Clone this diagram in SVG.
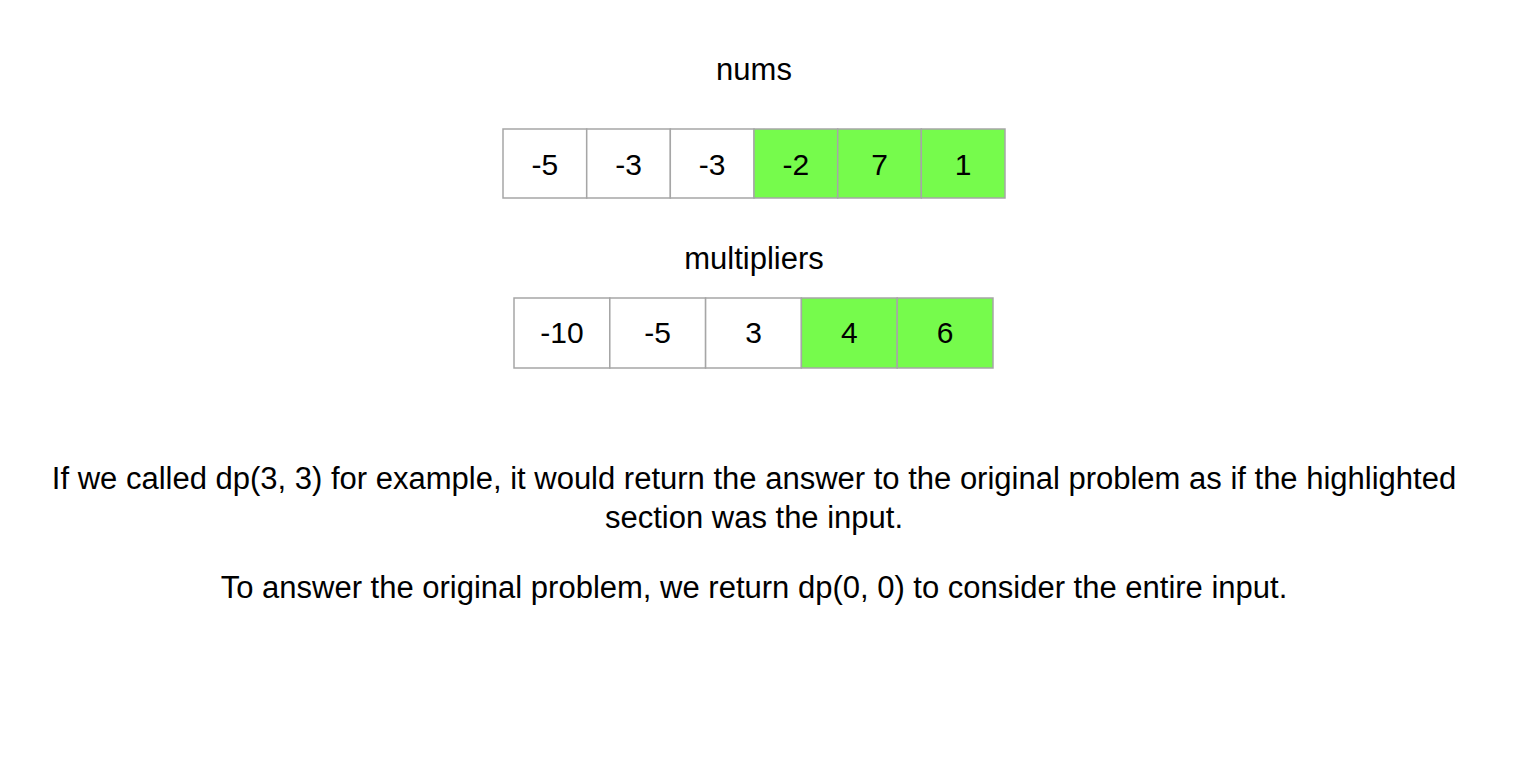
<svg xmlns="http://www.w3.org/2000/svg" width="1530" height="770" viewBox="0 0 1530 770">
<style>
text{font-family:"Liberation Sans",Arial,sans-serif;fill:#000;font-size:31px}
.c{text-anchor:middle}
.n{font-size:30px}
.w{fill:#fff;stroke:#a6a6a6;stroke-width:1.5}
.g{fill:#76fb4c;stroke:#a6a6a6;stroke-width:1.5}
</style>
<rect width="1530" height="770" fill="#fff"/>
<text class="c" x="754" y="80">nums</text>
<g id="nums">
<g id="n0"><rect class="w" x="503" y="129" width="83.7" height="69"/><text class="c n" x="544.8" y="175">-5</text></g>
<g id="n1"><rect class="w" x="586.7" y="129" width="83.7" height="69"/><text class="c n" x="628.5" y="175">-3</text></g>
<g id="n2"><rect class="w" x="670.3" y="129" width="83.7" height="69"/><text class="c n" x="712.2" y="175">-3</text></g>
<g id="n3"><rect class="g" x="754" y="129" width="83.7" height="69"/><text class="c n" x="795.8" y="175">-2</text></g>
<g id="n4"><rect class="g" x="837.7" y="129" width="83.7" height="69"/><text class="c n" x="879.5" y="175">7</text></g>
<g id="n5"><rect class="g" x="921.3" y="129" width="83.7" height="69"/><text class="c n" x="963.2" y="175">1</text></g>
</g>
<text class="c" x="754" y="269">multipliers</text>
<g id="multipliers">
<g id="m0"><rect class="w" x="514" y="298" width="95.8" height="70"/><text class="c n" x="561.9" y="343">-10</text></g>
<g id="m1"><rect class="w" x="609.8" y="298" width="95.8" height="70"/><text class="c n" x="657.7" y="343">-5</text></g>
<g id="m2"><rect class="w" x="705.6" y="298" width="95.8" height="70"/><text class="c n" x="753.5" y="343">3</text></g>
<g id="m3"><rect class="g" x="801.4" y="298" width="95.8" height="70"/><text class="c n" x="849.3" y="343">4</text></g>
<g id="m4"><rect class="g" x="897.2" y="298" width="95.8" height="70"/><text class="c n" x="945.1" y="343">6</text></g>
</g>
<text class="c" x="754" y="489">If we called dp(3, 3) for example, it would return the answer to the original problem as if the highlighted</text>
<text class="c" x="754" y="528">section was the input.</text>
<text class="c" x="754" y="598">To answer the original problem, we return dp(0, 0) to consider the entire input.</text>
</svg>
